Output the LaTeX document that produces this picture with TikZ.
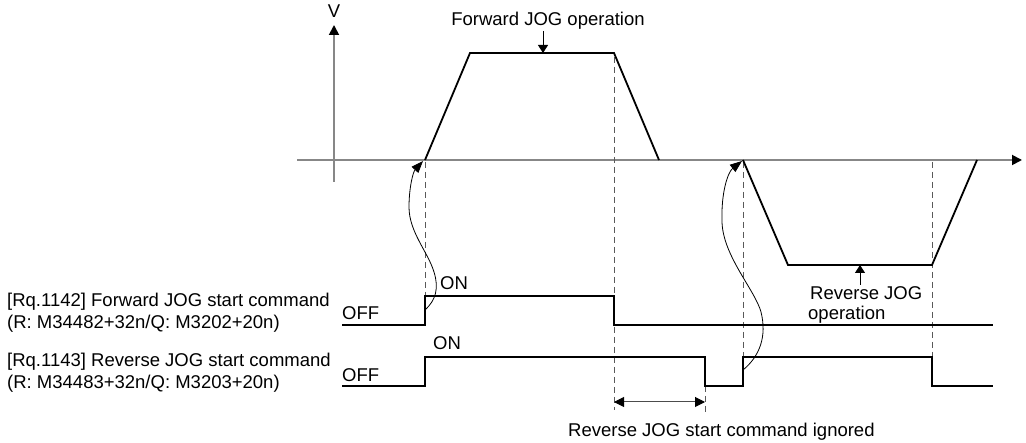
\documentclass[tikz,border=0pt]{standalone}
\usepackage{fontspec}
\setmainfont{Liberation Sans}
\usetikzlibrary{arrows.meta}
\begin{document}
\begin{tikzpicture}[x=1pt,y=-1pt,
  lbl/.style={inner sep=0pt, anchor=base west, font=\fontsize{18.5}{21.5}\selectfont},
  axisline/.style={draw=black!47, line width=1.8pt},
  axtip/.style={-{Triangle[length=10pt,width=10pt,color=black]}},
  profile/.style={line width=1.8pt, line join=miter},
  sig/.style={line width=1.5pt, line join=miter},
  guide/.style={draw=black!65, line width=1pt, dash pattern=on 6pt off 4pt},
  ptr/.style={line width=1pt, -{Triangle[length=8pt,width=10pt]}},
  curvearrow/.style={line width=0.8pt, -{Triangle[length=12pt,width=9pt]}},
  span/.style={draw=black!70, line width=1pt, {Triangle[length=10pt,width=10pt,color=black]}-{Triangle[length=10pt,width=10pt,color=black]}},
]
\useasboundingbox (0,0) rectangle (1026,443);

% axes
\coordinate (hx0) at (297,160);
\coordinate (hx1) at (1022,160);
\coordinate (vy0) at (334,182);
\coordinate (vy1) at (334,25);
\draw[axisline, axtip] (hx0) -- (hx1);
\draw[axisline, axtip] (vy0) -- (vy1);
\node[lbl, anchor=base] (vlabel) at (334,18) {V};

% guide lines
\coordinate (g1a) at (425,162); \coordinate (g1b) at (425,296);
\coordinate (g2a) at (614,57);  \coordinate (g2b) at (614,410);
\coordinate (g3a) at (743,162); \coordinate (g3b) at (743,357);
\coordinate (g4a) at (932,162); \coordinate (g4b) at (932,357);
\coordinate (g5a) at (705,386); \coordinate (g5b) at (705,415);
\draw[guide] (g1a) -- (g1b);
\draw[guide] (g2a) -- (g2b);
\draw[guide] (g3a) -- (g3b);
\draw[guide] (g4a) -- (g4b);
\draw[guide] (g5a) -- (g5b);

% forward profile
\coordinate (f0) at (425,160);
\coordinate (f1) at (470,53);
\coordinate (f2) at (614,53);
\coordinate (f3) at (659,160);
\draw[profile] (f0) -- (f1) -- (f2) -- (f3);

% reverse profile
\coordinate (r0) at (743,160);
\coordinate (r1) at (788,265);
\coordinate (r2) at (932,265);
\coordinate (r3) at (977,160);
\draw[profile] (r0) -- (r1) -- (r2) -- (r3);

% labels on profiles
\node[lbl, anchor=base] (fwdop) at (548,26) {Forward JOG operation};
\coordinate (fwdptr) at (543,31);
\coordinate (fwdtop) at (543,53);
\draw[ptr] (fwdptr) -- (fwdtop);

\node[lbl] (revop1) at (810,300) {Reverse JOG};
\node[lbl] (revop2) at (808,320) {operation};
\coordinate (revptr) at (860,285);
\coordinate (revbot) at (860,265);
\draw[ptr] (revptr) -- (revbot);

% forward signal
\coordinate (s1a) at (342,325);
\coordinate (s1b) at (425,325);
\coordinate (s1c) at (425,296);
\coordinate (s1d) at (614,296);
\coordinate (s1e) at (614,325);
\coordinate (s1f) at (993,325);
\draw[sig] (s1a) -- (s1b) -- (s1c) -- (s1d) -- (s1e) -- (s1f);

% reverse signal
\coordinate (s2a) at (342,386);
\coordinate (s2b) at (425,386);
\coordinate (s2c) at (425,357);
\coordinate (s2d) at (705,357);
\coordinate (s2e) at (705,386);
\coordinate (s2f) at (743,386);
\coordinate (s2g) at (743,357);
\coordinate (s2h) at (932,357);
\coordinate (s2i) at (932,386);
\coordinate (s2j) at (993,386);
\draw[sig] (s2a) -- (s2b) -- (s2c) -- (s2d) -- (s2e) -- (s2f) -- (s2g) -- (s2h) -- (s2i) -- (s2j);

% signal texts
\node[lbl] (on1) at (440,290) {ON};
\node[lbl] (on2) at (433,350) {ON};
\node[lbl] (off1) at (342,320) {OFF};
\node[lbl] (off2) at (342,381.5) {OFF};
\node[lbl] (fl1) at (7,307) {[Rq.1142] Forward JOG start command};
\node[lbl] (fl2) at (7,328.5) {(R: M34482+32n/Q: M3202+20n)};
\node[lbl] (rl1) at (7,366.5) {[Rq.1143] Reverse JOG start command};
\node[lbl] (rl2) at (7,388.5) {(R: M34483+32n/Q: M3203+20n)};

% curved arrows
\coordinate (c1s) at (425,310);
\coordinate (c1e) at (423,161);
\draw[curvearrow] (c1s) .. controls (436,300) and (439,288) .. (434,272)
  .. controls (428,252) and (409,232) .. (409,207)
  .. controls (409,188) and (413,172) .. (c1e);
\coordinate (c2s) at (743,370);
\coordinate (c2e) at (742,161);
\draw[curvearrow] (c2s) .. controls (760,356) and (767,336) .. (761,312)
  .. controls (755,290) and (723,256) .. (722,222)
  .. controls (721,192) and (728,172) .. (c2e);

% ignored span
\coordinate (ig0) at (614,402);
\coordinate (ig1) at (705,402);
\draw[span] (ig0) -- (ig1);
\node[lbl] (ignored) at (568,436.5) {Reverse JOG start command ignored};
\end{tikzpicture}
\end{document}
